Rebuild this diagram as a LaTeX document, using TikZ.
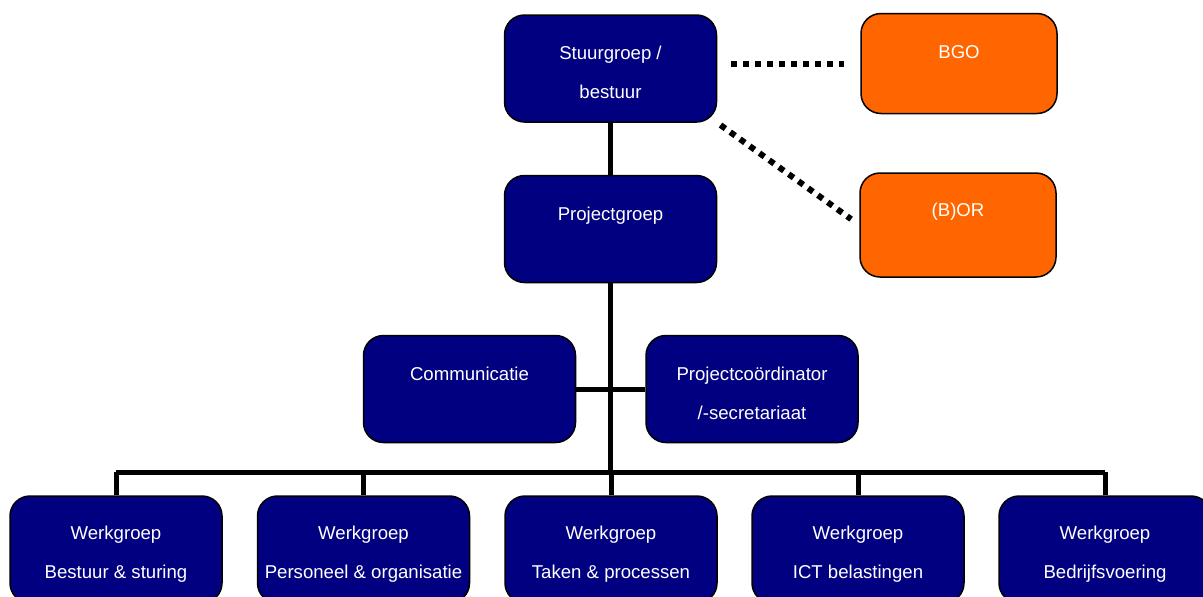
\documentclass[tikz,border=0pt]{standalone}
\usepackage{fontspec}
\setmainfont{Liberation Sans}
\usepackage{tikz}
\usetikzlibrary{calc}
\definecolor{navy}{HTML}{000080}
\definecolor{oranje}{HTML}{FF6600}
\newcommand{\hoog}[1][11pt]{\rule{0pt}{#1}}
\tikzset{
  unit/.style={draw=black, line width=0.75pt, fill=navy, rounded corners=10pt,
    minimum width=106pt, minimum height=53.5pt, inner sep=0pt, text=white,
    align=center, font=\fontsize{9.3}{19.5}\selectfont},
  advies/.style={unit, fill=oranje, minimum width=98pt, minimum height=50pt},
  link/.style={line width=2.5pt},
  dots/.style={line width=3pt, dash pattern=on 3pt off 3pt}
}
\begin{document}
\begin{tikzpicture}[x=0.5pt,y=-0.5pt]
  \useasboundingbox (0,0) rectangle (1203,596);
  \node[unit] (stuur) at (610.5,68.5) {\hoog Stuurgroep /\\bestuur};
  \node[unit] (project) at (610.5,229) {\hoog Projectgroep\\~};
  \node[advies] (bgo) at (959,63.5) {\hoog[14pt]BGO\\~};
  \node[advies, minimum height=52pt] (bor) at (958,225) {\hoog (B)OR\\~};
  \node[unit] (comm) at (469.5,389) {\hoog Communicatie\\~};
  \node[unit] (coord) at (752,389) {\hoog Projectco\"ordinator\\/-secretariaat};
  \coordinate (bus) at (610.5,472);
  \foreach \x/\name/\txt in {116/wg1/Bestuur \& sturing,363.5/wg2/Personeel \& organisatie,
      611/wg3/Taken \& processen,858/wg4/ICT belastingen,1105/wg5/Bedrijfsvoering}{
     \node[unit] (\name) at (\x,549.5) {\hoog Werkgroep\\\txt};
     \draw[link] (\name.north) -- (\name.north |- bus);
  }
  \draw[link] (stuur) -- (project);
  \draw[link] (project) -- (bus);
  \draw[link] (wg1.north |- bus) -- (wg5.north |- bus);
  \draw[link] (comm) -- (coord);
  \draw[dots, shorten <=7pt, shorten >=8pt] (stuur.east |- bgo) -- (bgo.west);
  \draw[dots, shorten <=2pt, shorten >=5pt] (stuur.south east) -- (bor.west);
\end{tikzpicture}
\end{document}
